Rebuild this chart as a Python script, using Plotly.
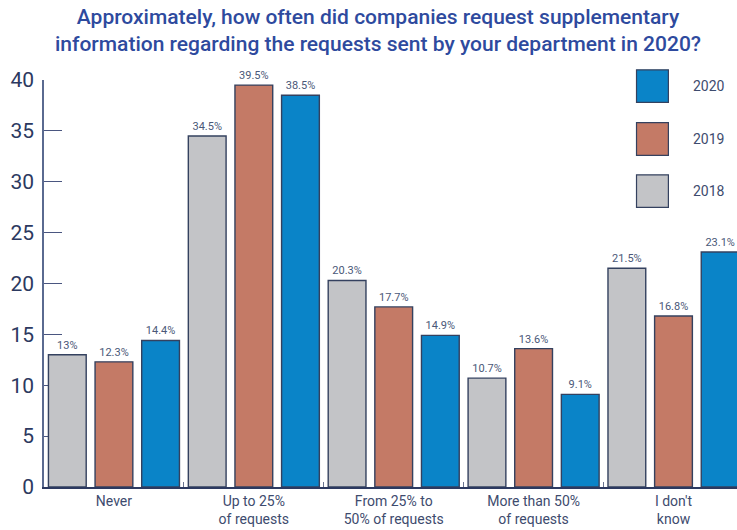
import plotly.graph_objects as go

# Survey answers and shares (%) per year
categories = ["Never", "Up to 25%<br>of requests", "From 25% to<br>50% of requests",
              "More than 50%<br>of requests", "I don't<br>know"]
years = ["2018", "2019", "2020"]
values_2018 = [13, 34.5, 20.3, 10.7, 21.5]
values_2019 = [12.3, 39.5, 17.7, 13.6, 16.8]
values_2020 = [14.4, 38.5, 14.9, 9.1, 23.1]
y_ticks = [0, 5, 10, 15, 20, 25, 30, 35, 40]

colors = {"2018": "#c3c4c7", "2019": "#c47a66", "2020": "#0a84c8"}
series = {"2018": values_2018, "2019": values_2019, "2020": values_2020}

NAVY = "#2c3960"
LABEL = "#3e4b6e"

fig = go.Figure()
for yr in years:
    vals = series[yr]
    fig.add_trace(go.Bar(
        x=categories, y=vals, name=yr,
        marker=dict(color=colors[yr], line=dict(color="#34415f", width=1.4)),
        text=[f"{v:g}%" for v in vals], textposition="outside",
        textfont=dict(family="Roboto", size=11, color="#4a5878"),
        cliponaxis=False, showlegend=False,
    ))

# Legend: big swatches stacked top-right, 2020 first
legend_rows = [("2020", 0.985), ("2019", 0.855), ("2018", 0.727)]
for yr, yc in legend_rows:
    fig.add_shape(type="rect", xref="paper", yref="paper",
                  x0=0.855, x1=0.901, y0=yc - 0.034 * 530 / 450, y1=yc + 0.034 * 530 / 450,
                  fillcolor=colors[yr], line=dict(color="#34415f", width=1.2))
    fig.add_annotation(text=yr, xref="paper", yref="paper", x=0.934, y=yc,
                       xanchor="left", yanchor="middle", showarrow=False,
                       font=dict(family="Roboto", size=14, color=LABEL))

# Two-line heading above the plot area
fig.add_annotation(
    text="Approximately, how often did companies request supplementary<br>"
         "information regarding the requests sent by your department in 2020?",
    xref="paper", yref="paper", x=0.482, y=1.122, xanchor="center", yanchor="middle",
    showarrow=False, align="center",
    font=dict(family="Roboto", size=21, color="#2e4a9e", weight=500),
)

fig.update_layout(
    width=737, height=530,
    margin=dict(l=44, r=0, t=80, b=43),
    paper_bgcolor="white", plot_bgcolor="white",
    barmode="group", bargap=0, bargroupgap=0.19,
    xaxis=dict(
        range=[-0.5, 4.454], showgrid=False, showline=True,
        linecolor=NAVY, linewidth=1.5, ticks="inside", tickson="boundaries",
        ticklen=5, tickcolor="#6a7490", tickwidth=1,
        tickfont=dict(family="Roboto", size=14, color=LABEL),
        layer="below traces",
    ),
    yaxis=dict(
        range=[0, 40], tickvals=y_ticks, showgrid=False, zeroline=False,
        showline=True, linecolor="#5a6a90", linewidth=1.5,
        ticks="inside", ticklen=18, tickcolor="#4a5680", tickwidth=1.2,
        tickfont=dict(family="Roboto", size=21, color=NAVY),
        ticklabelstandoff=4, layer="below traces",
    ),
)

fig.write_html("out.html")
